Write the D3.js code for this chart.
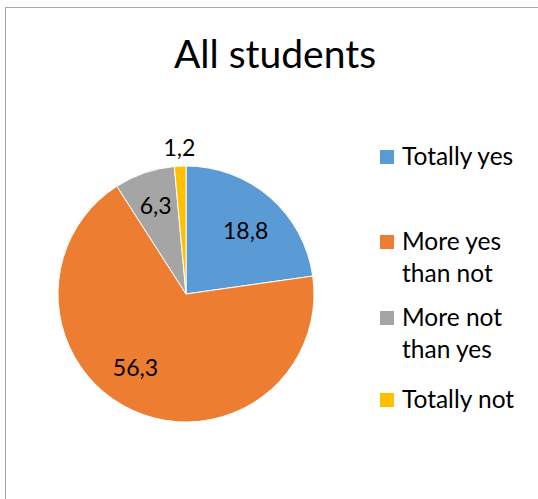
<!DOCTYPE html>
<html><head><meta charset="utf-8">
<script src="https://cdn.jsdelivr.net/npm/d3@7"></script>
<style>body{margin:0;background:#fff;}svg{display:block;}text{font-family:Lato,"Open Sans",sans-serif;fill:#000;}</style>
</head><body><svg id="c" width="538" height="499"></svg>
<script>
const categories = ["Totally yes", "More yes than not", "More not than yes", "Totally not"];
const legendLines = [["Totally yes"], ["More yes", "than not"], ["More not", "than yes"], ["Totally not"]];
const values = [18.8, 56.3, 6.3, 1.2];
const labels = ["18,8", "56,3", "6,3", "1,2"];
const colors = ["#5B9BD5", "#ED7D31", "#A5A5A5", "#FFC000"];
const title = "All students";

const svg = d3.select("#c");
svg.append("rect").attr("x",5.5).attr("y",7.5).attr("width",540).attr("height",500)
  .attr("fill","#fff").attr("stroke","#a6a6a6").attr("stroke-width",1);

svg.append("text").attr("x",275).attr("y",68).attr("text-anchor","middle")
  .style("font-size","39px").text(title);

const cx = 186, cy = 294, r = 128;
const pie = d3.pie().sort(null).value(d => d)(values);
const arc = d3.arc().innerRadius(0).outerRadius(r);
const g = svg.append("g").attr("transform",`translate(${cx},${cy})`);
g.selectAll("path").data(pie).join("path")
  .attr("d",arc).attr("fill",(d,i)=>colors[i]).attr("stroke","#fff").attr("stroke-width",1);

const labelRadius = [r*0.68, r*0.70, r*0.73, r+18];
const labelShift = [0.04, 0.17, 0, 0];
const labelPos = pie.map((d,i) => {
  const a=(d.startAngle+d.endAngle)/2 + labelShift[i];
  return [Math.sin(a)*labelRadius[i], -Math.cos(a)*labelRadius[i]];
});
g.selectAll("text.lbl").data(pie).join("text").attr("class","lbl")
  .attr("x",(d,i)=>labelPos[i][0]).attr("y",(d,i)=>labelPos[i][1])
  .attr("text-anchor","middle").attr("dy","0.35em")
  .style("font-size","23px").text((d,i)=>labels[i]);

const legendY = [157, 242, 318, 400];
const lg = svg.append("g");
categories.forEach((c,i)=>{
  lg.append("rect").attr("x",380).attr("y",legendY[i]-7).attr("width",14).attr("height",14).attr("fill",colors[i]);
  const t = lg.append("text").attr("x",402).attr("y",legendY[i]+8).style("font-size","24.5px");
  legendLines[i].forEach((ln,j)=>{
    t.append("tspan").attr("x",402).attr("dy", j===0?0:32).text(ln);
  });
});
</script></body></html>
